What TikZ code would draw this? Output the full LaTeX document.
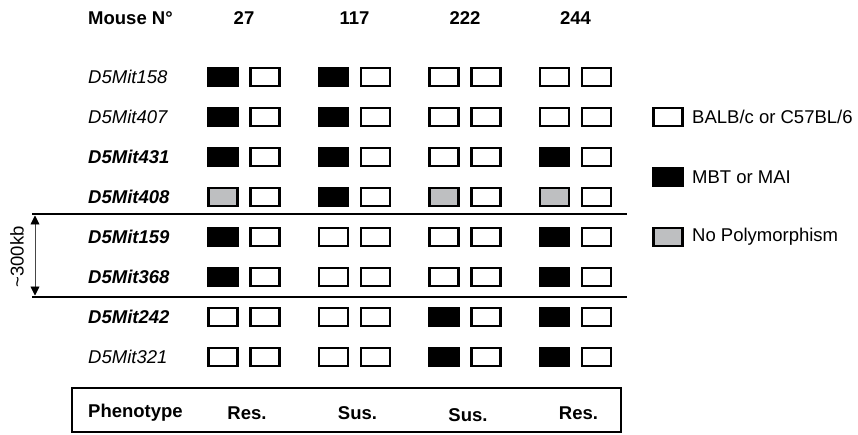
\documentclass[tikz,border=0pt]{standalone}
\usepackage{fontspec}
\setmainfont{Liberation Sans}
\usepackage{xcolor}
\usepackage{tikz}
\usetikzlibrary{arrows.meta,positioning}
\definecolor{nopoly}{RGB}{190, 191, 193}
\definecolor{darkgray}{RGB}{70, 70, 70}

\tikzset{
    allele/.style={draw=black, line width=2.3pt, minimum width=29pt, minimum height=18.5pt, inner sep=0pt},
    head/.style={font=\fontsize{18.5}{21}\selectfont\bfseries, inner sep=0pt},
    mkplain/.style={font=\fontsize{18.5}{21}\selectfont\itshape, inner sep=0pt, anchor=west},
    mkbold/.style={font=\fontsize{18.5}{21}\selectfont\bfseries\itshape, inner sep=0pt, anchor=west},
    legtext/.style={font=\fontsize{18.5}{21}\selectfont, inner sep=0pt, anchor=west},
    bound/.style={line width=2.6pt, black},
    kbtip/.tip={Triangle[length=9pt,width=9pt,black]}
}

\begin{document}
\begin{tikzpicture}[x=1pt, y=-1pt]
    \useasboundingbox (0,0) rectangle (858,435);

    % Header
    \node[head, anchor=west] (mouse) at (88,18.5) {Mouse N°};
    \foreach \c/\num in {1/27, 2/117, 3/222, 4/244} {
        \node[head] (h\c) at ({244+110.5*(\c-1)},18.5) {\num};
    }

    % Markers and alleles (first box per mouse varies, second is always white)
    \foreach \r/\mk/\st/\ca/\cb/\cc/\cd in {
        1/158/mkplain/black/black/white/white,
        2/407/mkplain/black/black/white/white,
        3/431/mkbold/black/black/white/black,
        4/408/mkbold/nopoly/black/nopoly/nopoly,
        5/159/mkbold/black/white/white/black,
        6/368/mkbold/black/white/white/black,
        7/242/mkbold/white/white/black/black,
        8/321/mkplain/white/white/black/black} {
        \node[\st] (mk\r) at (88,{77+40*(\r-1)}) {D5Mit\mk};
        \foreach \c/\fc in {1/\ca, 2/\cb, 3/\cc, 4/\cd} {
            \node[allele, fill=\fc] (a\r-\c) at ({223+110.5*(\c-1)},{77+40*(\r-1)}) {};
            \node[allele, fill=white] (b\r-\c) at ({265+110.5*(\c-1)},{77+40*(\r-1)}) {};
        }
    }

    % Interval
    \coordinate (top l) at (32,214);
    \coordinate (top r) at (627,214);
    \coordinate (bot l) at (32,297);
    \coordinate (bot r) at (627,297);
    \draw[bound] (top l) -- (top r);
    \draw[bound] (bot l) -- (bot r);
    \coordinate (arr t) at (35,215.5);
    \coordinate (arr b) at (35,295.5);
    \draw[kbtip-kbtip, darkgray, line width=0.9pt] (arr t) -- (arr b);
    \node[legtext, anchor=center, rotate=90] (kb) at (17,257) {\textasciitilde300kb};

    % Legend
    \foreach \l/\fc/\txt in {1/white/{BALB/c or C57BL/6}, 2/black/MBT or MAI, 3/nopoly/No Polymorphism} {
        \node[allele, fill=\fc] (leg\l) at (668,{117+60*(\l-1)}) {};
        \node[legtext] (legt\l) at (692,{117+60*(\l-1)}) {\txt};
    }

    % Phenotype
    \node[draw, line width=1.9pt, minimum width=549pt, minimum height=44pt, inner sep=0pt] (pheno) at (346.5,410) {};
    \node[head, anchor=west] (phlab) at (88,413) {Phenotype};
    \foreach \c/\ph in {1/Res., 2/Sus., 3/Sus., 4/Res.} {
        \node[head] (ph\c) at ({247+110.5*(\c-1)},{413+(\c==3)*2}) {\ph};
    }
\end{tikzpicture}
\end{document}
